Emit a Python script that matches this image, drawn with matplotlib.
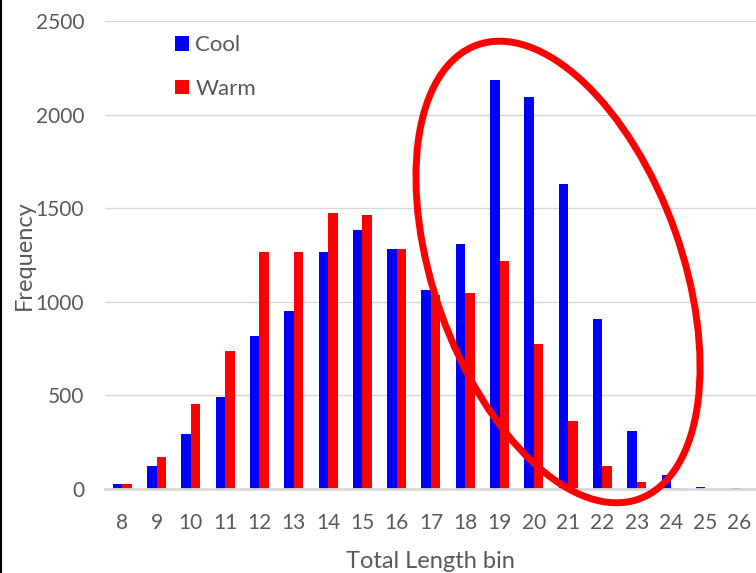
import numpy as np
import matplotlib
matplotlib.use('Agg')
import matplotlib.pyplot as plt
from matplotlib.patches import Ellipse
from matplotlib.lines import Line2D

bins = ['8', '9', '10', '11', '12', '13', '14', '15', '16', '17', '18',
        '19', '20', '21', '22', '23', '24', '25', '26']
cool = [27, 123, 294, 491, 817, 951, 1266, 1383, 1282, 1063, 1309,
        2185, 2094, 1629, 908, 310, 75, 11, 3]
warm = [27, 169, 454, 737, 1266, 1266, 1474, 1464, 1282, 1036, 1047,
        1218, 775, 363, 123, 37, 5, 1, 1]

plt.rcParams['font.family'] = ['Lato', 'DejaVu Sans']

fig = plt.figure(figsize=(7.56, 5.73), dpi=100)
ax = fig.add_axes([0.139, 0.1466, 0.862, 0.8168])

x = np.arange(len(bins))
w = 0.277
ax.bar(x - w / 2, cool, width=w, color='#0000ff', label='Cool', zorder=3)
ax.bar(x + w / 2, warm, width=w, color='#ff0000', label='Warm', zorder=3)

ax.set_xlim(-0.5, len(bins) - 0.5)
ax.set_ylim(0, 2500)
ax.set_yticks(np.arange(0, 2501, 500))
ax.set_xticks(x)
ax.set_xticklabels(bins)

ax.grid(axis='y', color='#d9d9d9', linewidth=1.0, zorder=0)
for s in ['top', 'right', 'left']:
    ax.spines[s].set_visible(False)
ax.spines['bottom'].set_color('#d9d9d9')
ax.spines['bottom'].set_linewidth(2.0)
ax.spines['bottom'].set_zorder(4)
ax.tick_params(axis='both', length=0, labelsize=15, colors='#595959')
ax.tick_params(axis='x', pad=17)
ax.tick_params(axis='y', pad=15)

ax.set_xlabel('Total Length bin', fontsize=17, color='#595959', labelpad=13)
ax.set_ylabel('Frequency', fontsize=17, color='#595959')
ax.yaxis.set_label_coords(-0.108, 0.5)

ax.legend(loc='upper left', bbox_to_anchor=(0.077, 1.012), frameon=False,
          fontsize=16, labelcolor='#595959', handlelength=0.6,
          handleheight=0.6, handletextpad=0.3, labelspacing=1.05)

# red ellipse highlighting the upper bins
ell = Ellipse((5.58, 3.01), 4.82, 2.48, angle=-70.4, fill=False,
              edgecolor='#ff0000', linewidth=5.0,
              transform=fig.dpi_scale_trans, zorder=10, clip_on=False)
fig.add_artist(ell)

# left border line
fig.add_artist(Line2D([0.001, 0.001], [0, 1], color='black', linewidth=1.5,
                      transform=fig.transFigure))

plt.savefig('out.png', dpi=100)
